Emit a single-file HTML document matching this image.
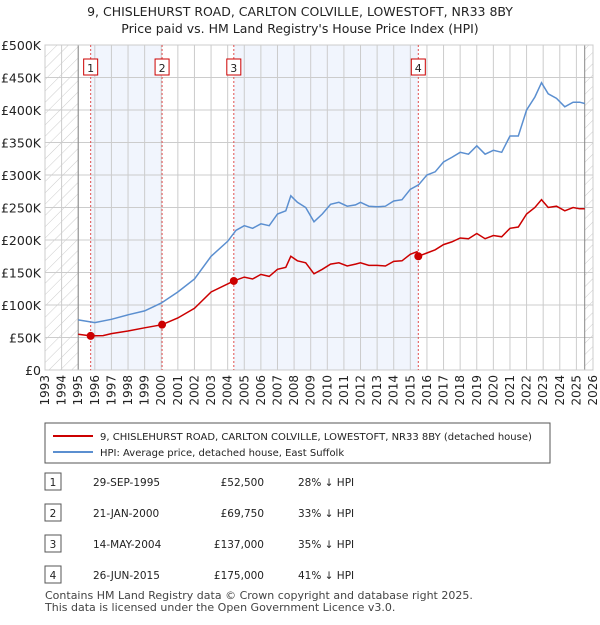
<!DOCTYPE html>
<html><head><meta charset="utf-8"><style>
body{margin:0;background:#fff;font-family:"Liberation Sans","DejaVu Sans",sans-serif;}
svg text{font-family:"DejaVu Sans","Liberation Sans",sans-serif;}
</style></head><body>
<svg width="600" height="620" xmlns="http://www.w3.org/2000/svg" id="chart">
<defs><pattern id="hatch" width="8" height="8" patternUnits="userSpaceOnUse" patternTransform="rotate(45)"><line x1="0" y1="0" x2="0" y2="8" stroke="#ccc" stroke-width="1"/></pattern></defs>
<text x="300" y="16" text-anchor="middle" font-size="12.5" fill="#222">9, CHISLEHURST ROAD, CARLTON COLVILLE, LOWESTOFT, NR33 8BY</text>
<text x="300" y="33" text-anchor="middle" font-size="12.5" fill="#222">Price paid vs. HM Land Registry's House Price Index (HPI)</text>
<g id="plot"></g>
<g>
<rect x="45" y="423" width="505" height="40" fill="#fff" stroke="#555"/>
<line x1="53" y1="436" x2="93" y2="436" stroke="#cc0000" stroke-width="2"/>
<text x="100" y="440" font-size="10" fill="#222">9, CHISLEHURST ROAD, CARLTON COLVILLE, LOWESTOFT, NR33 8BY (detached house)</text>
<line x1="53" y1="452" x2="93" y2="452" stroke="#5b8fd0" stroke-width="2"/>
<text x="100" y="456" font-size="10" fill="#222">HPI: Average price, detached house, East Suffolk</text>
</g>
<g id="table" font-size="10.5" fill="#222"></g>
<text x="45" y="599" font-size="11" fill="#444">Contains HM Land Registry data © Crown copyright and database right 2025.</text>
<text x="45" y="611" font-size="11" fill="#444">This data is licensed under the Open Government Licence v3.0.</text>
</svg>
<script>
const yTicks=[0,50,100,150,200,250,300,350,400,450,500];
const yTickLabels=["£0","£50K","£100K","£150K","£200K","£250K","£300K","£350K","£400K","£450K","£500K"];
const years=[1993,1994,1995,1996,1997,1998,1999,2000,2001,2002,2003,2004,2005,2006,2007,2008,2009,2010,2011,2012,2013,2014,2015,2016,2017,2018,2019,2020,2021,2022,2023,2024,2025,2026];
const saleDates=[1995.75,2000.05,2004.37,2015.48];
const salePrices=[52.5,69.75,137,175];
const saleLabels=["1","2","3","4"];
const saleDateText=["29-SEP-1995","21-JAN-2000","14-MAY-2004","26-JUN-2015"];
const salePriceText=["£52,500","£69,750","£137,000","£175,000"];
const saleHpiText=["28% ↓ HPI","33% ↓ HPI","35% ↓ HPI","41% ↓ HPI"];
const hpiT=[1995,1996,1997,1998,1999,2000,2001,2002,2003,2004,2004.5,2005,2005.5,2006,2006.5,2007,2007.5,2007.8,2008.2,2008.7,2009.2,2009.7,2010.2,2010.7,2011.2,2011.7,2012,2012.5,2013,2013.5,2014,2014.5,2015,2015.5,2016,2016.5,2017,2017.5,2018,2018.5,2019,2019.5,2020,2020.5,2021,2021.5,2022,2022.5,2022.9,2023.3,2023.8,2024.3,2024.8,2025.2,2025.5];
const hpiV=[77,73,78,85,91,103,120,140,175,198,215,222,218,225,222,240,245,268,258,250,228,240,255,258,252,254,258,252,251,252,260,262,278,285,300,305,320,327,335,332,345,332,338,335,360,360,400,420,442,425,418,405,412,412,410];
const redT=[1995,1995.75,1996.5,1997,1998,1999,2000.05,2001,2002,2003,2004.37,2005,2005.5,2006,2006.5,2007,2007.5,2007.8,2008.2,2008.7,2009.2,2009.7,2010.2,2010.7,2011.2,2011.7,2012,2012.5,2013,2013.5,2014,2014.5,2015,2015.4,2015.48,2016,2016.5,2017,2017.5,2018,2018.5,2019,2019.5,2020,2020.5,2021,2021.5,2022,2022.5,2022.9,2023.3,2023.8,2024.3,2024.8,2025.2,2025.5];
const redV=[55,52.5,53,56,60,65,69.75,80,95,120,137,143,140,147,144,155,158,175,168,165,148,155,163,165,160,163,165,161,161,160,167,168,178,182,175,180,185,193,197,203,202,210,202,207,205,218,220,240,250,262,250,252,245,250,248,248];
const X0=45,X1=593,Y0=370,Y1=45;
const x=t=>X0+(t-1993)/(2026-1993)*(X1-X0);
const y=v=>Y0-v/500*(Y0-Y1);
const NS="http://www.w3.org/2000/svg";
function mk(tag,attrs,parent,text){const e=document.createElementNS(NS,tag);for(const k in attrs)e.setAttribute(k,attrs[k]);if(text!==undefined)e.textContent=text;parent.appendChild(e);return e;}
const g=document.getElementById('plot');
for(let i=0;i<saleDates.length;i+=2){const end=i+1<saleDates.length?saleDates[i+1]:2025.5;
const r=mk('rect',{x:x(saleDates[i]),y:Y1,width:x(end)-x(saleDates[i]),height:Y0-Y1,fill:'#eef3fc',opacity:0.8},g);

}
const h1=mk('rect',{x:X0,y:Y1,width:x(1995)-X0,height:Y0-Y1,fill:'url(#hatch)'},g);


const h2=mk('rect',{x:x(2025.5),y:Y1,width:X1-x(2025.5),height:Y0-Y1,fill:'url(#hatch)'},g);


yTicks.forEach((v,i)=>{mk('line',{x1:X0,x2:X1,y1:y(v),y2:y(v),stroke:'#ccc'},g);
const t=mk('text',{x:X0-4,y:y(v)+5,'text-anchor':'end','font-size':'12.5',fill:'#222'},g,yTickLabels[i]);

});
years.forEach(yr=>{mk('line',{x1:x(yr),x2:x(yr),y1:Y1,y2:Y0,stroke:'#ccc'},g);
const t=mk('text',{transform:`translate(${x(yr)+4},${Y0+5}) rotate(-90)`,'text-anchor':'end','font-size':'12',fill:'#222'},g,String(yr));

});
mk('line',{x1:x(1995),x2:x(1995),y1:Y1,y2:Y0,stroke:'#888'},g);
mk('line',{x1:x(2025.5),x2:x(2025.5),y1:Y1,y2:Y0,stroke:'#888'},g);
mk('rect',{x:X0,y:Y1,width:X1-X0,height:Y0-Y1,fill:'none',stroke:'#ccc'},g);
saleDates.forEach((d,i)=>{const l=mk('line',{x1:x(d),x2:x(d),y1:Y1,y2:Y0,stroke:'#e05050','stroke-dasharray':'2,2'},g);


mk('rect',{x:x(d)-7,y:59,width:14,height:16,fill:'#fff',stroke:'#cc0000'},g);
const t=mk('text',{x:x(d),y:72,'text-anchor':'middle','font-size':'11',fill:'#222'},g,saleLabels[i]);

});
const hp=mk('path',{d:hpiT.map((t,i)=>(i?'L':'M')+x(t).toFixed(1)+' '+y(hpiV[i]).toFixed(1)).join(''),fill:'none',stroke:'#5b8fd0','stroke-width':1.5},g);


const rp=mk('path',{d:redT.map((t,i)=>(i?'L':'M')+x(t).toFixed(1)+' '+y(redV[i]).toFixed(1)).join(''),fill:'none',stroke:'#cc0000','stroke-width':1.5},g);


saleDates.forEach((d,i)=>{const c=mk('circle',{cx:x(d),cy:y(salePrices[i]),r:4,fill:'#cc0000'},g);

});
const tb=document.getElementById('table');
const rowY=[483,514,545,576];
saleLabels.forEach((l,i)=>{const ry=rowY[i];
mk('rect',{x:45,y:ry-10,width:16,height:17,fill:'#fff',stroke:'#555'},tb);
mk('text',{x:53,y:ry+3,'text-anchor':'middle'},tb,l);
const a=mk('text',{x:93,y:ry+3},tb,saleDateText[i]);


const b=mk('text',{x:264,y:ry+3,'text-anchor':'end'},tb,salePriceText[i]);


const c=mk('text',{x:298,y:ry+3},tb,saleHpiText[i]);

});
</script>
</body></html>
